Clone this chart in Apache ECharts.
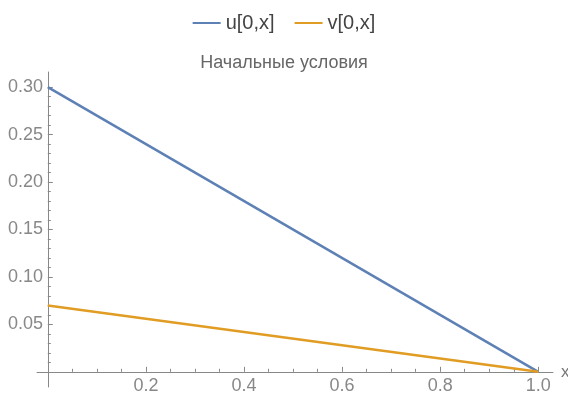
<!DOCTYPE html>
<html>
<head>
<meta charset="utf-8">
<script src="https://cdn.jsdelivr.net/npm/echarts@6/dist/echarts.min.js"></script>
<style>
  html, body { margin: 0; padding: 0; background: #fff; }
  #cn { width: 568px; height: 394px; }
</style>
</head>
<body>
<div id="cn"></div>
<script>
'use strict';

const arrX = [0, 1];
const arrU = [0.3, 0];
const arrV = [0.07, 0];

const arrXLabels = [0.2, 0.4, 0.6, 0.8, 1.0];
const arrYLabels = [0.05, 0.1, 0.15, 0.2, 0.25, 0.3];
const arrXMinor = [0.05, 0.1, 0.15, 0.25, 0.3, 0.35, 0.45, 0.5, 0.55, 0.65, 0.7, 0.75, 0.85, 0.9, 0.95];
const arrYMinor = [0.01, 0.02, 0.03, 0.04, 0.06, 0.07, 0.08, 0.09, 0.11, 0.12, 0.13, 0.14,
    0.16, 0.17, 0.18, 0.19, 0.21, 0.22, 0.23, 0.24, 0.26, 0.27, 0.28, 0.29];

const strAxis = '#888';
const strFont = '"Liberation Sans", Arial, sans-serif';

const chart = echarts.init(document.getElementById('cn'));

const xRange = { min: -0.022, max: 1.03 };
const yRange = { min: -0.016, max: 0.316 };

// ラベルはグリッド端基準で置かれるので、軸線(0の位置)に寄せるため負のmarginにする
let option = {
    animation: false,
    textStyle: { fontFamily: strFont },
    title: {
        text: 'Начальные условия',
        left: 'center',
        top: 49,
        textStyle: { fontSize: 18, fontWeight: 'normal', color: '#666', fontFamily: strFont }
    },
    legend: {
        data: ['u[0,x]', 'v[0,x]'],
        top: 8,
        left: 'center',
        icon: 'rect',
        itemWidth: 28,
        itemHeight: 2,
        itemGap: 20,
        textStyle: { fontSize: 20, color: '#444', fontFamily: strFont }
    },
    grid: {
        left: 37,
        right: 15,
        top: 72,
        bottom: 7,
        containLabel: false,
        outerBoundsMode: 'none'
    },
    xAxis: [{
            type: 'value',
            min: xRange.min,
            max: xRange.max,
            name: 'x',
            nameLocation: 'end',
            nameGap: 8,
            nameTextStyle: { color: '#777', fontSize: 17, fontFamily: strFont },
            splitLine: { show: false },
            axisLine: { onZero: true, lineStyle: { color: strAxis, width: 1 } },
            axisTick: {
                inside: true,
                length: 5,
                customValues: arrXLabels,
                lineStyle: { color: strAxis }
            },
            axisLabel: {
                customValues: arrXLabels,
                color: '#888',
                fontSize: 18,
                fontFamily: strFont,
                margin: -10,
                formatter: v => v.toFixed(1)
            }
        },
        {
            type: 'value',
            min: xRange.min,
            max: xRange.max,
            position: 'bottom',
            splitLine: { show: false },
            axisLine: { show: false, onZero: true },
            axisTick: {
                inside: true,
                length: 3,
                customValues: arrXMinor,
                lineStyle: { color: strAxis }
            },
            axisLabel: { show: false }
        }
    ],
    yAxis: [{
            type: 'value',
            min: yRange.min,
            max: yRange.max,
            splitLine: { show: false },
            axisLine: { onZero: true, lineStyle: { color: strAxis, width: 1 } },
            axisTick: {
                inside: true,
                length: 5,
                customValues: arrYLabels,
                lineStyle: { color: strAxis }
            },
            axisLabel: {
                customValues: arrYLabels,
                color: '#888',
                fontSize: 18,
                fontFamily: strFont,
                margin: -6,
                formatter: v => v.toFixed(2)
            }
        },
        {
            type: 'value',
            min: yRange.min,
            max: yRange.max,
            position: 'left',
            splitLine: { show: false },
            axisLine: { show: false, onZero: true },
            axisTick: {
                inside: true,
                length: 3,
                customValues: arrYMinor,
                lineStyle: { color: strAxis }
            },
            axisLabel: { show: false }
        }
    ],
    series: [{
            name: 'u[0,x]',
            type: 'line',
            showSymbol: false,
            lineStyle: { width: 2.5, color: '#5e81b5' },
            itemStyle: { color: '#5e81b5' },
            data: arrX.map((x, i) => [x, arrU[i]])
        },
        {
            name: 'v[0,x]',
            type: 'line',
            showSymbol: false,
            lineStyle: { width: 2.5, color: '#e19c24' },
            itemStyle: { color: '#e19c24' },
            data: arrX.map((x, i) => [x, arrV[i]])
        }
    ]
};

chart.setOption(option);
</script>
</body>
</html>
